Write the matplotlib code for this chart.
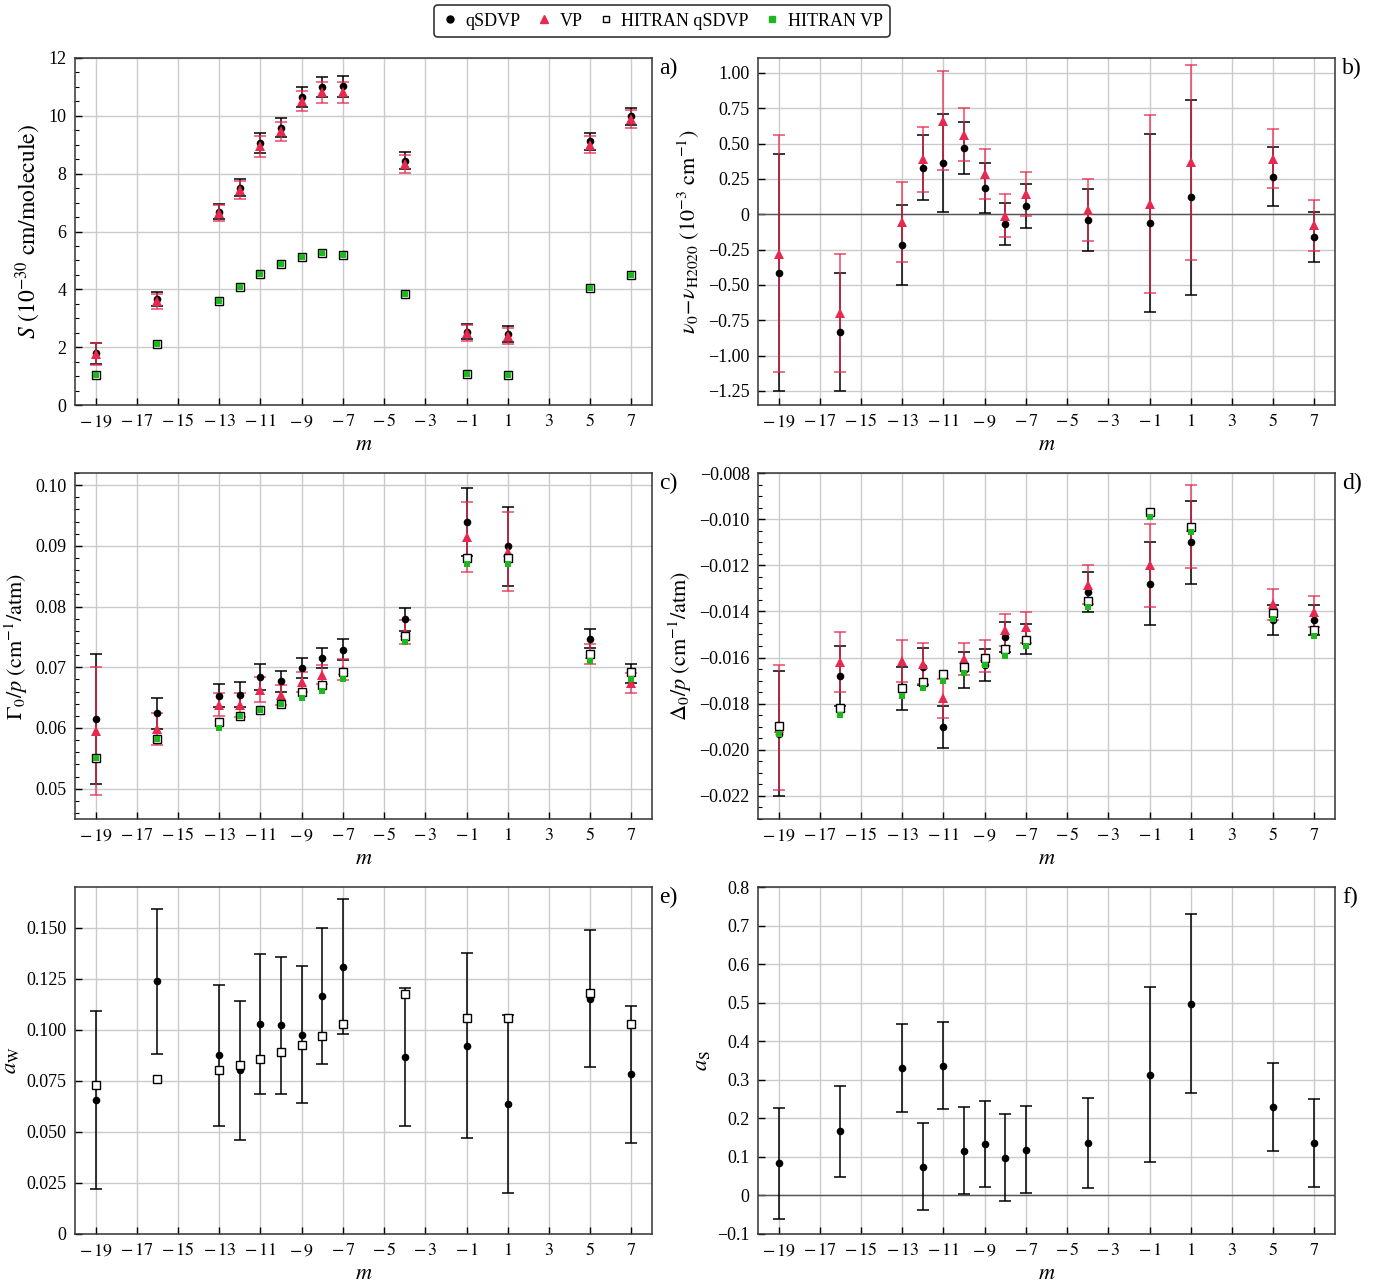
import matplotlib
matplotlib.use("Agg")
import matplotlib.pyplot as plt
from matplotlib.ticker import FixedLocator, FuncFormatter, MultipleLocator
from matplotlib.lines import Line2D

plt.rcParams['font.family'] = 'serif'
plt.rcParams['font.serif'] = ['Liberation Serif', 'DejaVu Serif']
plt.rcParams['mathtext.fontset'] = 'stix'

# ---------------- data ----------------
m = [-19, -16, -13, -12, -11, -10, -9, -8, -7, -4, -1, 1, 5, 7]

# a) line intensity S (1e-30 cm/molecule)
S_q = [1.79, 3.66, 6.69, 7.52, 9.06, 9.59, 10.64, 11.0, 11.02, 8.45, 2.54, 2.45, 9.12, 9.98]
S_q_err = [0.37, 0.25, 0.27, 0.30, 0.35, 0.33, 0.35, 0.35, 0.37, 0.30, 0.27, 0.28, 0.30, 0.30]
S_vp = [1.77, 3.58, 6.63, 7.44, 8.94, 9.47, 10.50, 10.81, 10.81, 8.34, 2.49, 2.40, 9.00, 9.89]
S_vp_err = [0.37, 0.25, 0.27, 0.30, 0.35, 0.33, 0.35, 0.35, 0.37, 0.30, 0.27, 0.28, 0.30, 0.30]
S_hq = [1.03, 2.11, 3.58, 4.07, 4.52, 4.89, 5.13, 5.25, 5.18, 3.83, 1.07, 1.04, 4.04, 4.50]
S_hvp = [1.03, 2.11, 3.58, 4.07, 4.52, 4.89, 5.13, 5.25, 5.18, 3.83, 1.07, 1.04, 4.04, 4.50]

# b) line position difference (1e-3 cm-1)
nu_q = [-0.413, -0.833, -0.217, 0.327, 0.362, 0.468, 0.185, -0.068, 0.060, -0.042, -0.065, 0.119, 0.265, -0.160]
nu_q_err = [0.84, 0.42, 0.285, 0.23, 0.35, 0.185, 0.175, 0.148, 0.157, 0.22, 0.63, 0.69, 0.21, 0.178]
nu_vp = [-0.280, -0.700, -0.055, 0.390, 0.660, 0.563, 0.284, -0.010, 0.142, 0.031, 0.074, 0.369, 0.393, -0.077]
nu_vp_err = [0.84, 0.415, 0.285, 0.23, 0.35, 0.185, 0.175, 0.150, 0.157, 0.22, 0.63, 0.69, 0.21, 0.180]

# c) broadening coefficient Gamma0/p (cm-1/atm)
G_q = [0.0615, 0.0624, 0.0653, 0.0655, 0.0684, 0.0677, 0.0699, 0.0715, 0.0729, 0.0779, 0.0940, 0.0899, 0.0747, 0.0690]
G_q_err = [0.0107, 0.0026, 0.0019, 0.0020, 0.0021, 0.0017, 0.0016, 0.0016, 0.0017, 0.0019, 0.0056, 0.0065, 0.0016, 0.0016]
G_vp = [0.0595, 0.0598, 0.0638, 0.0638, 0.0663, 0.0654, 0.0676, 0.0688, 0.0696, 0.0758, 0.0915, 0.0890, 0.0722, 0.0674]
G_vp_err = [0.0106, 0.0026, 0.0019, 0.0020, 0.0021, 0.0017, 0.0016, 0.0016, 0.0017, 0.0020, 0.0058, 0.0065, 0.0016, 0.0017]
G_hq = [0.0551, 0.0581, 0.0610, 0.0620, 0.0630, 0.0640, 0.0660, 0.0671, 0.0692, 0.0752, 0.0880, 0.0880, 0.0721, 0.0692]
G_hvp = [0.0551, 0.0581, 0.0600, 0.0620, 0.0630, 0.0640, 0.0650, 0.0661, 0.0681, 0.0741, 0.0870, 0.0870, 0.0710, 0.0681]

# d) shift coefficient Delta0/p (cm-1/atm)
D_q = [-0.0193, -0.0168, -0.01733, -0.0164, -0.01901, -0.01653, -0.01632, -0.01511, -0.01521, -0.01316, -0.0128, -0.01101, -0.01438, -0.01436]
D_q_err = [0.0027, 0.0013, 0.00093, 0.0008, 0.0009, 0.00077, 0.0007, 0.00065, 0.00065, 0.00087, 0.0018, 0.0018, 0.00066, 0.00065]
D_vp = [-0.01904, -0.0162, -0.01615, -0.01626, -0.01776, -0.01606, -0.01594, -0.0148, -0.01469, -0.01284, -0.01199, -0.01032, -0.01369, -0.01402]
D_vp_err = [0.0027, 0.0013, 0.00093, 0.0009, 0.00085, 0.0007, 0.0007, 0.0007, 0.00067, 0.00085, 0.0018, 0.0018, 0.00068, 0.00067]
D_hq = [-0.01896, -0.0182, -0.01733, -0.01704, -0.01671, -0.01642, -0.01603, -0.01565, -0.01522, -0.01356, -0.0097, -0.01035, -0.01407, -0.01482]
D_hvp = [-0.01933, -0.0185, -0.01767, -0.01734, -0.01702, -0.01669, -0.01633, -0.01594, -0.01551, -0.01382, -0.0099, -0.01055, -0.01431, -0.01508]

# e) a_W
aW_q = [0.0656, 0.1238, 0.0875, 0.0802, 0.1029, 0.1022, 0.0977, 0.1166, 0.1310, 0.0865, 0.0923, 0.0638, 0.1153, 0.0782]
aW_q_err = [0.0436, 0.0356, 0.0345, 0.0340, 0.0342, 0.0335, 0.0334, 0.0332, 0.0330, 0.0338, 0.0452, 0.0436, 0.0334, 0.0336]
aW_hq = [0.0728, 0.0759, 0.0803, 0.0826, 0.0857, 0.0892, 0.0926, 0.0970, 0.1031, 0.1175, 0.1058, 0.1058, 0.1181, 0.1031]

# f) a_S
aS_q = [0.083, 0.166, 0.331, 0.075, 0.337, 0.116, 0.133, 0.098, 0.119, 0.136, 0.313, 0.497, 0.229, 0.136]
aS_q_err = [0.144, 0.119, 0.114, 0.114, 0.1135, 0.113, 0.112, 0.112, 0.112, 0.117, 0.227, 0.232, 0.114, 0.114]

xticks = [-19, -17, -15, -13, -11, -9, -7, -5, -3, -1, 1, 3, 5, 7]
legend_labels = ['qSDVP', 'VP', 'HITRAN qSDVP', 'HITRAN VP']

RED = '#e8294f'
GREEN = '#1cb81c'

# ---------------- figure ----------------
fig = plt.figure(figsize=(13.92, 12.86), dpi=100)
W, H = 1392, 1286

def make_ax(l, r, t, b):
    return fig.add_axes([l / W, (H - b) / H, (r - l) / W, (b - t) / H])

ax_a = make_ax(75, 652, 58, 405)
ax_b = make_ax(758, 1335, 58, 405)
ax_c = make_ax(75, 652, 473, 819)
ax_d = make_ax(758, 1335, 473, 819)
ax_e = make_ax(75, 652, 887, 1234)
ax_f = make_ax(758, 1335, 887, 1234)


def xfmt(v, pos):
    iv = int(round(v))
    if iv < 0:
        return r'$-\,%d$' % abs(iv)
    return r'$%d$' % iv


def yfmt(dec):
    def f(v, pos):
        if abs(v) < 1e-12:
            return '0'
        s = f'{v:.{dec}f}'
        return s.replace('-', '\u2212')
    return f


def style(ax, ylim, yticks, dec, ylabel, letter, minor=None, ylsize=16):
    ax.set_xlim(-20, 8)
    ax.set_ylim(*ylim)
    ax.xaxis.set_major_locator(FixedLocator(xticks))
    ax.xaxis.set_major_formatter(FuncFormatter(xfmt))
    ax.yaxis.set_major_locator(FixedLocator(yticks))
    ax.yaxis.set_major_formatter(FuncFormatter(yfmt(dec)))
    if minor:
        ax.yaxis.set_minor_locator(MultipleLocator(minor))
    ax.tick_params(axis='both', which='both', direction='in', labelsize=13,
                   top=False, right=False, pad=6)
    ax.tick_params(axis='both', which='major', length=5, width=1)
    ax.tick_params(axis='y', which='minor', length=3, width=0.8)
    ax.grid(True, which='major', color='#cbcbcb', linewidth=1.0)
    ax.set_axisbelow(True)
    for sp in ax.spines.values():
        sp.set_linewidth(1.1)
        sp.set_color('#333333')
    ax.set_xlabel(r'$m$', fontsize=16, labelpad=4)
    ax.set_ylabel(ylabel, fontsize=ylsize, labelpad=4)
    ax.text(1.012, 1.0, letter, transform=ax.transAxes, ha='left', va='top', fontsize=17)


def eb(ax, y, err, color, marker, ms, ealpha=1.0, z=3):
    ax.errorbar(m, y, yerr=err, fmt='none', ecolor=color, elinewidth=1.1,
                capsize=4.5, capthick=1.1, alpha=ealpha, zorder=z)
    ax.plot(m, y, linestyle='none', marker=marker, color=color, markersize=ms,
            markeredgewidth=0, zorder=z + 0.5)


def hitran(ax, hq, hvp):
    if hq is not None:
        ax.plot(m, hq, linestyle='none', marker='s', markerfacecolor='white',
                markeredgecolor='black', markeredgewidth=1.0, markersize=5.6, zorder=5)
    if hvp is not None:
        ax.plot(m, hvp, linestyle='none', marker='s', color=GREEN,
                markeredgewidth=0, markersize=5.0, zorder=5.5)


# a)
eb(ax_a, S_q, S_q_err, 'black', 'o', 5.5)
eb(ax_a, S_vp, S_vp_err, RED, '^', 6.5, ealpha=0.85)
hitran(ax_a, S_hq, S_hvp)
style(ax_a, (0, 12), [0, 2, 4, 6, 8, 10, 12], 0,
      r'$S\ (10^{-30}\ \mathrm{cm/molecule})$', 'a)', minor=0.5, ylsize=17)

# b)
ax_b.axhline(0, color='#555555', linewidth=1.0, zorder=2)
eb(ax_b, nu_q, nu_q_err, 'black', 'o', 5.5)
eb(ax_b, nu_vp, nu_vp_err, RED, '^', 6.5, ealpha=0.85)
style(ax_b, (-1.35, 1.105), [-1.25, -1.0, -0.75, -0.5, -0.25, 0, 0.25, 0.5, 0.75, 1.0], 2,
      r'$\nu_0\!-\!\nu_{\mathrm{H2020}}\ (10^{-3}\ \mathrm{cm}^{-1})$', 'b)')

# c)
eb(ax_c, G_q, G_q_err, 'black', 'o', 5.5)
eb(ax_c, G_vp, G_vp_err, RED, '^', 6.5, ealpha=0.85)
hitran(ax_c, G_hq, G_hvp)
style(ax_c, (0.045, 0.102), [0.05, 0.06, 0.07, 0.08, 0.09, 0.10], 2,
      r'$\Gamma_0/p\ (\mathrm{cm}^{-1}/\mathrm{atm})$', 'c)', minor=0.002)

# d)
eb(ax_d, D_q, D_q_err, 'black', 'o', 5.5)
eb(ax_d, D_vp, D_vp_err, RED, '^', 6.5, ealpha=0.85)
hitran(ax_d, D_hq, D_hvp)
style(ax_d, (-0.023, -0.008), [-0.022, -0.020, -0.018, -0.016, -0.014, -0.012, -0.010, -0.008], 3,
      r'$\Delta_0/p\ (\mathrm{cm}^{-1}/\mathrm{atm})$', 'd)', minor=0.0005)

# e)
eb(ax_e, aW_q, aW_q_err, 'black', 'o', 5.5)
hitran(ax_e, aW_hq, None)
style(ax_e, (0, 0.17), [0, 0.025, 0.05, 0.075, 0.1, 0.125, 0.15], 3,
      r'$a_\mathrm{W}$', 'e)')

# f)
ax_f.axhline(0, color='#555555', linewidth=1.0, zorder=2)
eb(ax_f, aS_q, aS_q_err, 'black', 'o', 5.5)
style(ax_f, (-0.1, 0.8), [-0.1, 0, 0.1, 0.2, 0.3, 0.4, 0.5, 0.6, 0.7, 0.8], 1,
      r'$a_\mathrm{S}$', 'f)')

# legend
handles = [
    Line2D([], [], linestyle='none', marker='o', color='black', markersize=5),
    Line2D([], [], linestyle='none', marker='^', color=RED, markersize=6),
    Line2D([], [], linestyle='none', marker='s', markerfacecolor='white',
           markeredgecolor='black', markersize=5),
    Line2D([], [], linestyle='none', marker='s', color=GREEN, markersize=5),
]
leg = fig.legend(handles, legend_labels, loc='center', bbox_to_anchor=(662 / W, 1 - 21 / H),
                 ncol=4, fontsize=13, frameon=True, fancybox=True, edgecolor='black',
                 handlelength=1.0, handletextpad=0.35, columnspacing=0.8, borderpad=0.4)
leg.get_frame().set_linewidth(1.2)

fig.savefig('out.png', dpi=100)
